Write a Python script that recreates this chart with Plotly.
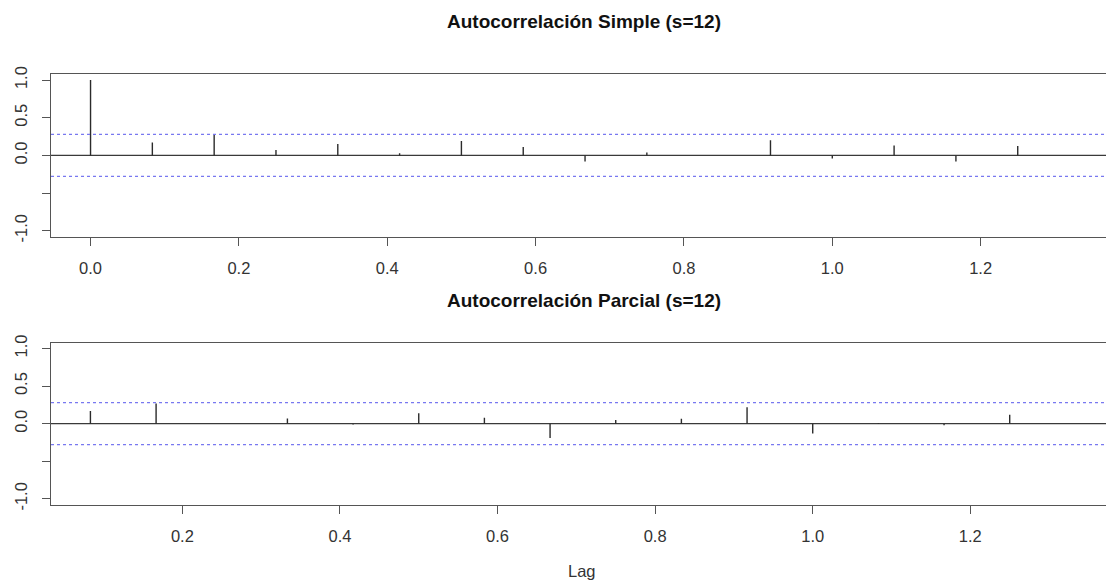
import math
import plotly.graph_objects as go

# ---- data ----
freq = 12
n_obs = 49
acf_lags = [k / freq for k in range(0, 17)]
acf_vals = [1.0, 0.17, 0.28, 0.07, 0.15, 0.03, 0.19, 0.11, -0.08, 0.04, 0.0,
            0.20, -0.04, 0.13, -0.08, 0.125, 0.0]
pacf_lags = [k / freq for k in range(1, 17)]
pacf_vals = [0.17, 0.27, 0.0, 0.07, -0.01, 0.14, 0.08, -0.19, 0.05, 0.065,
             0.22, -0.13, 0.01, -0.02, 0.12, 0.0]
ci = 1.96 / math.sqrt(n_obs)

title_top = "Autocorrelación Simple (s=12)"
title_bottom = "Autocorrelación Parcial (s=12)"
xlab = "Lag"
ytickvals = [-1.0, -0.5, 0.0, 0.5, 1.0]
yticktext = ["-1.0", "", "0.0", "0.5", "1.0"]

W, H = 1106, 586
FONT = "Liberation Sans, Arial, sans-serif"
FRAME = "#555555"
TXT = "#333333"
SPIKE = "#2b2b2b"
BLUE = "rgb(120,120,240)"


def spikes(lags, vals):
    xs, ys = [], []
    for lag, v in zip(lags, vals):
        xs += [lag, lag, None]
        ys += [0, v, None]
    return xs, ys


fig = go.Figure()
x1, y1 = spikes(acf_lags, acf_vals)
fig.add_trace(go.Scatter(x=x1, y=y1, mode="lines", xaxis="x", yaxis="y",
                         line=dict(color=SPIKE, width=1.4), hoverinfo="skip",
                         showlegend=False))
x2, y2 = spikes(pacf_lags, pacf_vals)
fig.add_trace(go.Scatter(x=x2, y=y2, mode="lines", xaxis="x2", yaxis="y2",
                         line=dict(color=SPIKE, width=1.4), hoverinfo="skip",
                         showlegend=False))

xdom = [51 / W, 1.0]
top_dom = [1 - 234.3 / H, 1 - 67.7 / H]
bot_dom = [1 - 509 / H, 1 - 342.7 / H]

axis_common = dict(
    showline=True, linecolor=FRAME, linewidth=1.3,
    ticks="outside", ticklen=8, tickcolor=FRAME, tickwidth=1.2,
    showgrid=False, tickfont=dict(family=FONT, size=16.5, color=TXT),
    ticklabelstandoff=8, zeroline=False,
)

fig.update_layout(
    width=W, height=H,
    margin=dict(l=0, r=0, t=0, b=0),
    paper_bgcolor="white", plot_bgcolor="white",
    xaxis=dict(domain=xdom, anchor="y", range=[-0.0533, 1.369], mirror=True,
               tickvals=[0.0, 0.2, 0.4, 0.6, 0.8, 1.0, 1.2],
               ticktext=["0.0", "0.2", "0.4", "0.6", "0.8", "1.0", "1.2"],
               **axis_common),
    yaxis=dict(domain=top_dom, anchor="x", range=[-1.08, 1.08], mirror=False,
               tickvals=ytickvals, ticktext=yticktext, tickangle=-90,
               **axis_common),
    xaxis2=dict(domain=xdom, anchor="y2", range=[0.0333, 1.3722], mirror=True,
                tickvals=[0.2, 0.4, 0.6, 0.8, 1.0, 1.2],
                ticktext=["0.2", "0.4", "0.6", "0.8", "1.0", "1.2"],
                **axis_common),
    yaxis2=dict(domain=bot_dom, anchor="x2", range=[-1.08, 1.08], mirror=False,
                tickvals=ytickvals, ticktext=yticktext, tickangle=-90,
                **axis_common),
    showlegend=False,
)

# zero lines and confidence bands
for yref, xref in [("y", "x domain"), ("y2", "x2 domain")]:
    fig.add_shape(type="line", xref=xref, yref=yref, x0=0, x1=1, y0=0, y1=0,
                  line=dict(color="#3a3a3a", width=1.3), layer="below")
    for c in (ci, -ci):
        fig.add_shape(type="line", xref=xref, yref=yref, x0=0, x1=1, y0=c, y1=c,
                      line=dict(color=BLUE, width=1.3, dash="3px,3px"),
                      layer="above")

fig.add_annotation(text="<b>" + title_top + "</b>", xref="paper", yref="paper",
                   x=584 / W, y=1 - 14 / H, xanchor="center", yanchor="middle",
                   showarrow=False, font=dict(family=FONT, size=19, color="#111"))
fig.add_annotation(text="<b>" + title_bottom + "</b>", xref="paper", yref="paper",
                   x=584 / W, y=1 - 300 / H, xanchor="center", yanchor="middle",
                   showarrow=False, font=dict(family=FONT, size=19, color="#111"))
fig.add_annotation(text=xlab, xref="paper", yref="paper",
                   x=582 / W, y=1 - 577 / H, xanchor="center", yanchor="middle",
                   showarrow=False, font=dict(family=FONT, size=16.5, color=TXT))

fig.write_html("out.html")
